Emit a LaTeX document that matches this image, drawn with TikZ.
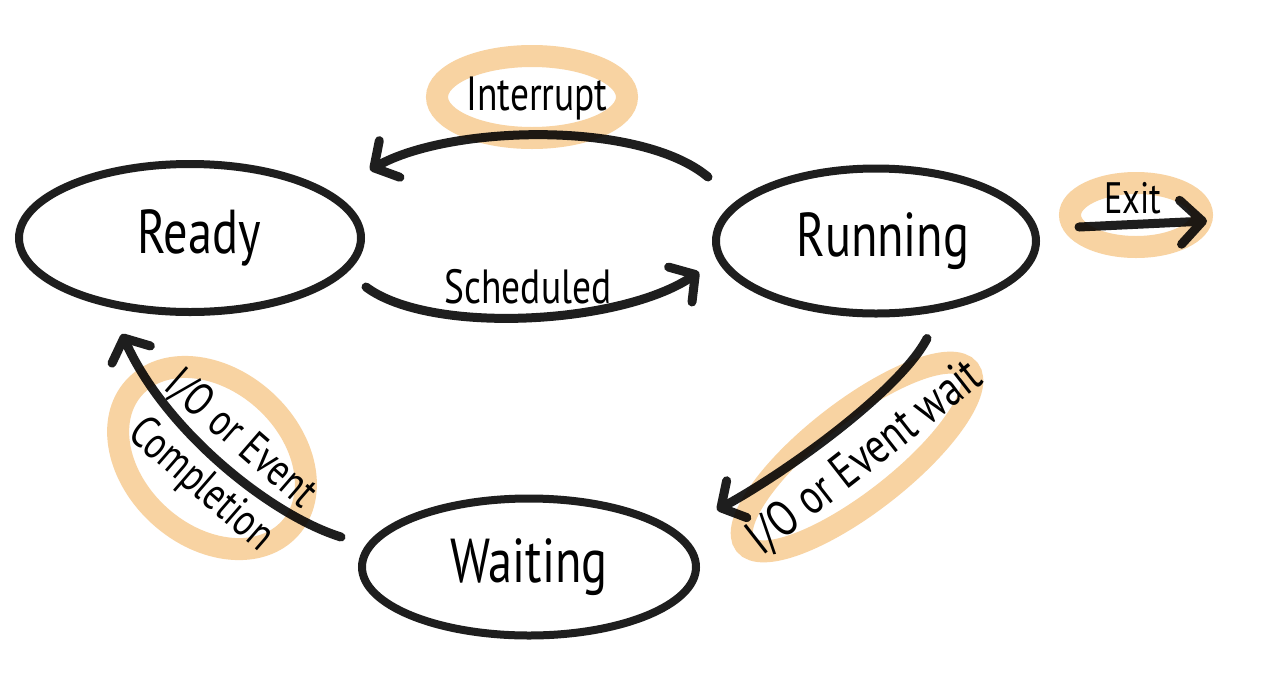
\documentclass[tikz,border=0pt]{standalone}
\usepackage{fontspec}
\setmainfont{PT Sans}[FakeStretch=0.78]
\usetikzlibrary{shapes.geometric,arrows.meta,calc}
\definecolor{ink}{HTML}{1E1E1E}
\definecolor{hl}{HTML}{F8D3A2}
\begin{document}
\begin{tikzpicture}[x=1pt,y=-1pt,
  state/.style={ellipse, draw=ink, line width=8pt, inner sep=0pt, font=\fontsize{62}{70}\selectfont},
  lbl/.style={inner sep=0pt, font=\fontsize{48}{56}\selectfont},
  arr/.style={draw=ink, line width=9pt, line cap=round, -{Straight Barb[length=18pt,width=42pt,round]}},
  hlband/.style={ellipse, draw=hl, line width=22pt, inner sep=0pt}]
\useasboundingbox (0,0) rectangle (1280,689);
\fill[white] (0,0) rectangle (1280,689);
% states
\node[state, minimum width=342, minimum height=148] (ready) at (190,238) {\hspace*{18pt}Ready};
\node[state, minimum width=320, minimum height=145] (running) at (876,241) {\hspace*{14pt}Running};
\node[state, minimum width=334, minimum height=137] (waiting) at (529,567) {Waiting};
\coordinate (exitend) at (1207,221);
% connectors
\draw[arr] ($(running.west)+(-4,-64)$) .. controls (640,120) and (450,125) .. ($(ready.east)+(5,-68)$);
\draw[arr] ($(ready.east)+(1,49)$) .. controls (430,335) and (620,325) .. ($(running.west)+(-13,31)$);
\draw[arr, -{Straight Barb[length=22pt,width=44pt,round]}] ($(running.east)+(39,-14)$) -- (exitend);
\draw[arr] ($(running.south)+(51,21)$) .. controls (900,390) and (790,470) .. ($(waiting.east)+(17,-57)$);
\draw[arr] ($(waiting.west)+(-17,-30)$) .. controls (270,515) and (165,430) .. ($(ready.south)+(-68,18)$);
% labels
\node[lbl] (intlbl) at (537,98) {Interrupt};
\node[lbl] (schedlbl) at (528,287) {Scheduled};
\node[lbl, font=\fontsize{44}{50}\selectfont] (exitlbl) at (1133,198) {Exit};
\node[lbl, rotate=38, font=\fontsize{50}{56}\selectfont] (waitlbl) at (865,458) {I/O or Event wait};
\node[lbl, rotate=-41, align=center, font=\fontsize{46}{60}\selectfont] (compllbl) at (220,463) {I/O or Event\\Completion};
% highlights
\begin{scope}[blend mode=multiply]
\node[hlband, minimum width=190, minimum height=82] (hlint) at (532,97) {};
\node[hlband, minimum width=132, minimum height=64] (hlexit) at (1136,215) {};
\node[hlband, minimum width=284, minimum height=90, rotate=38] (hlwait) at (857,457) {};
\node[hlband, minimum width=210, minimum height=156, rotate=-42] (hlcomp) at (212,458) {};
\end{scope}
\end{tikzpicture}
\end{document}
